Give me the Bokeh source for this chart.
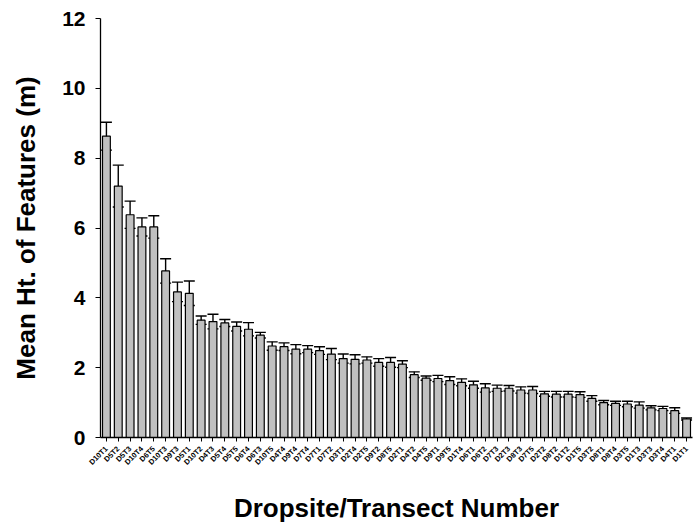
import math
from bokeh.plotting import figure
from bokeh.models import ColumnDataSource, FactorRange, Range1d, Whisker, TeeHead, FixedTicker
from bokeh.embed import file_html
from bokeh.resources import INLINE

names = ["D10T1", "D5T2", "D5T3", "D10T4", "D6T5", "D10T3", "D9T3", "D5T1", "D10T2", "D4T3",
         "D5T4", "D5T5", "D6T4", "D6T3", "D10T5", "D4T4", "D9T4", "D7T4", "D7T1", "D7T2",
         "D3T1", "D2T4", "D2T5", "D9T2", "D8T5", "D2T1", "D4T2", "D4T5", "D9T1", "D9T5",
         "D1T4", "D6T1", "D6T2", "D7T3", "D2T3", "D8T3", "D7T5", "D2T2", "D8T2", "D1T2",
         "D1T5", "D3T2", "D8T1", "D8T4", "D3T5", "D1T3", "D3T3", "D3T4", "D4T1", "D1T1"]

means = [8.63, 7.20, 6.38, 6.03, 6.03, 4.77, 4.17, 4.13, 3.36, 3.32,
         3.28, 3.18, 3.10, 2.93, 2.62, 2.60, 2.53, 2.53, 2.49, 2.39,
         2.26, 2.24, 2.22, 2.15, 2.15, 2.10, 1.80, 1.70, 1.69, 1.63,
         1.58, 1.51, 1.42, 1.41, 1.41, 1.36, 1.36, 1.25, 1.24, 1.24,
         1.23, 1.12, 1.00, 0.98, 0.96, 0.93, 0.85, 0.83, 0.77, 0.53]

errors = [0.40, 0.60, 0.39, 0.26, 0.32, 0.35, 0.28, 0.35, 0.12, 0.21,
          0.10, 0.13, 0.19, 0.08, 0.12, 0.11, 0.13, 0.10, 0.11, 0.16,
          0.13, 0.13, 0.09, 0.11, 0.14, 0.10, 0.08, 0.06, 0.09, 0.11,
          0.10, 0.10, 0.12, 0.09, 0.08, 0.09, 0.10, 0.07, 0.08, 0.08,
          0.08, 0.08, 0.06, 0.06, 0.08, 0.09, 0.06, 0.06, 0.08, 0.03]

y_ticks = [0, 2, 4, 6, 8, 10, 12]

src = ColumnDataSource(dict(
    names=names,
    means=means,
    upper=[m + e for m, e in zip(means, errors)],
    lower=[m - e for m, e in zip(means, errors)],
))

FONT = "Liberation Sans"

p = figure(
    x_range=FactorRange(factors=names, range_padding=0),
    y_range=Range1d(0, 12),
    frame_width=592, frame_height=419,
    min_border_left=100, min_border_right=4, min_border_top=18, min_border_bottom=86,
    output_backend="svg", toolbar_location=None,
)

p.vbar(x="names", top="means", width=0.66, source=src,
       fill_color="#c0c0c0", line_color="black", line_width=1.2)

cap = TeeHead(size=11, line_color="black", line_width=1.4)
cap2 = TeeHead(size=11, line_color="black", line_width=1.4)
p.add_layout(Whisker(source=src, base="names", upper="upper", lower="lower",
                     line_color="black", line_width=1.4,
                     upper_head=cap, lower_head=cap2))

p.outline_line_color = None
p.xgrid.grid_line_color = None
p.ygrid.grid_line_color = None

p.yaxis.ticker = FixedTicker(ticks=y_ticks)
p.yaxis.minor_tick_line_color = None
p.yaxis.major_tick_in = 0
p.yaxis.major_tick_out = 5
p.yaxis.major_label_text_font = FONT
p.yaxis.major_label_text_font_style = "bold"
p.yaxis.major_label_text_font_size = "21px"
p.yaxis.major_label_text_color = "black"
p.yaxis.major_label_standoff = 10
p.yaxis.axis_label = "Mean Ht. of Features (m)"
p.yaxis.axis_label_text_font = FONT
p.yaxis.axis_label_text_font_style = "bold"
p.yaxis.axis_label_text_font_size = "26px"
p.yaxis.axis_label_text_color = "black"
p.yaxis.axis_label_standoff = 18
p.yaxis.axis_line_width = 1.3

p.xaxis.major_tick_in = 0
p.xaxis.major_tick_out = 4
p.xaxis.major_label_orientation = math.pi / 4
p.xaxis.major_label_text_font = FONT
p.xaxis.major_label_text_font_style = "bold"
p.xaxis.major_label_text_font_size = "7.5px"
p.xaxis.major_label_text_color = "black"
p.xaxis.major_label_standoff = 6
p.xaxis.axis_label = "Dropsite/Transect Number"
p.xaxis.axis_label_text_font = FONT
p.xaxis.axis_label_text_font_style = "bold"
p.xaxis.axis_label_text_font_size = "26px"
p.xaxis.axis_label_text_color = "black"
p.xaxis.axis_label_standoff = 20
p.xaxis.axis_line_width = 1.3

open("out.html", "w").write(file_html(p, INLINE))
